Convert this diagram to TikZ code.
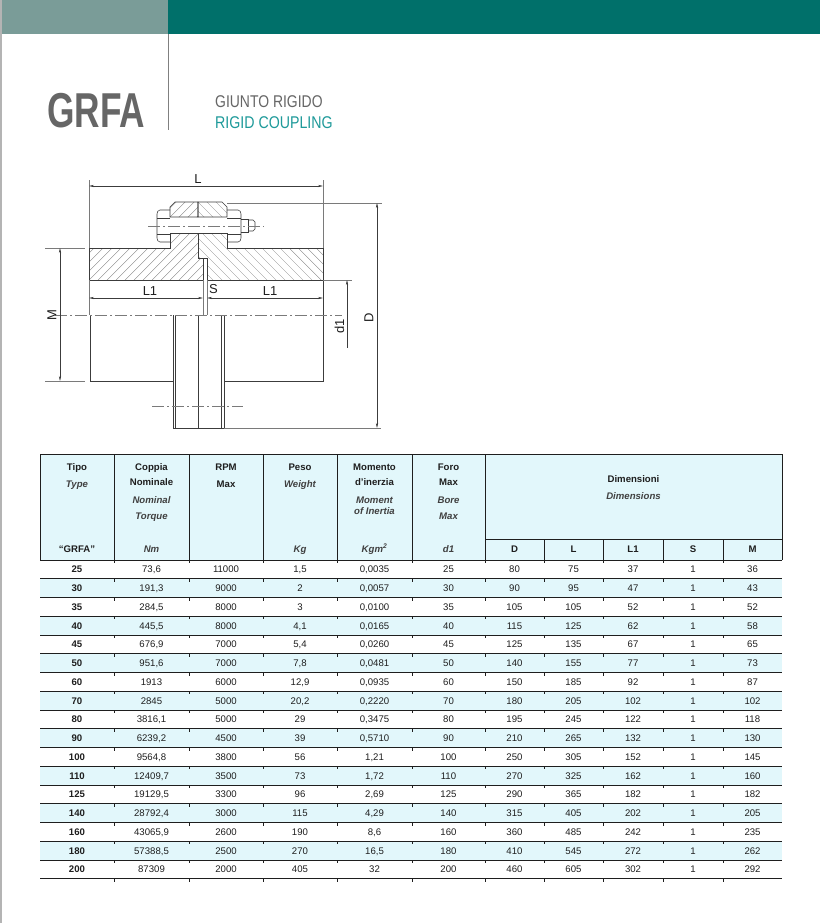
\documentclass[tikz,border=0pt]{standalone}
\usepackage{fontspec}
\setmainfont{Liberation Sans}
\usepackage{graphicx}
\usetikzlibrary{arrows.meta}
\definecolor{leftgray}{HTML}{B4B4B4}
\definecolor{bandlight}{HTML}{7A9C98}
\definecolor{banddark}{HTML}{00706A}
\definecolor{sepgray}{HTML}{808080}
\definecolor{titlegray}{HTML}{666666}
\definecolor{titleteal}{HTML}{1E9A9A}
\definecolor{tblue}{HTML}{E2F7FB}
\definecolor{tline}{HTML}{1E1E1E}
\definecolor{ink}{HTML}{1E1E1E}
\definecolor{dgray}{HTML}{3C3C3C}
\definecolor{lgray}{HTML}{7A7A7A}
\definecolor{hgray}{HTML}{808080}
\newcommand\trow[2]{%
  \pgfmathsetmacro\myry{560+(#1-0.5)*18.75}
  \foreach \v [count=\c] in {#2} {
    \pgfmathsetmacro\myrx{{77,151.5,226,300,374.5,448.5,514.5,573.5,633,693,752.5}[\c-1]}
    \node[cell] (r#1c\c) at (\myrx,\myry) {\ifnum\c=1\bfseries\fi\v};
  }}
\begin{document}
\begin{tikzpicture}[x=1pt,y=-1pt,
  cell/.style={inner sep=0pt, anchor=base, yshift=-3.4pt, text=ink, font=\fontsize{9.6}{10}\selectfont},
  hb/.style={inner sep=0pt, anchor=base, yshift=-3.4pt, text=ink, font=\fontsize{9.6}{10}\selectfont\bfseries},
  hi/.style={inner sep=0pt, anchor=base, yshift=-3.4pt, text=ink!85, font=\fontsize{9.6}{10}\selectfont\bfseries\itshape},
  part/.style={draw=dgray, line width=0.55pt},
  ext/.style={draw=lgray, line width=0.45pt},
  hatch/.style={draw=hgray, line width=0.35pt},
  axis/.style={draw=lgray, line width=0.45pt, dash pattern=on 12pt off 3pt on 2pt off 3pt},
  dim/.style={draw=dgray, line width=0.45pt, {Stealth[length=5pt,width=2.2pt]}-{Stealth[length=5pt,width=2.2pt]}},
  dimone/.style={draw=dgray, line width=0.45pt, {Stealth[length=5pt,width=2.2pt]}-},
  dimlab/.style={inner sep=0pt, text=ink, font=\fontsize{13}{13}\selectfont},
  tline/.style={draw=tline, line width=0.8pt}]
\useasboundingbox (0,0) rectangle (820,923);
\fill[white] (0,0) rectangle (820,923);
\fill[leftgray] (0,0) rectangle (2,923);
% header bands
\fill[bandlight] (2,0) rectangle (168,34);
\fill[banddark] (168,0) rectangle (820,34);
\draw[sepgray, line width=1.5pt] (168.5,34) -- (168.5,130);
\node[inner sep=0pt, anchor=base west, text=titlegray, font=\fontsize{49}{49}\selectfont\bfseries] (grfa) at (47,128) {\scalebox{0.72}[1]{GRFA}};
\node[inner sep=0pt, anchor=base west, text=titlegray, font=\fontsize{17}{17}\selectfont] (giunto) at (215,108) {\scalebox{0.82}[1]{GIUNTO RIGIDO}};
\node[inner sep=0pt, anchor=base west, text=titleteal, font=\fontsize{17}{17}\selectfont] (rigid) at (215,128.5) {\scalebox{0.835}[1]{RIGID COUPLING}};

% ================= drawing =================
% hatching left half
\begin{scope}
\clip (89,248) -- (170,248) -- (170,233) -- (198,233) -- (198,258) -- (203,258) -- (203,280) -- (89,280) -- cycle
      (170,217) -- (170,207) -- (175,202) -- (198,202) -- (198,217) -- cycle;
\foreach \i in {-20,-11,...,330} \draw[hatch] (\i,290) -- ++(100,-100);
\end{scope}
% hatching right half
\begin{scope}
\clip (198,202) -- (222,202) -- (227,207) -- (227,217) -- (198,217) -- cycle
      (198,233) -- (227,233) -- (227,248) -- (323,248) -- (323,280) -- (207,280) -- (207,258) -- (198,258) -- cycle;
\foreach \i in {60,69,...,360} \draw[hatch] (\i,190) -- ++(100,100);
\end{scope}
% outlines
\draw[part] (89,248) -- (170,248) -- (170,233) -- (198,233) -- (198,258) -- (203,258) -- (203,280) -- (89,280) -- cycle;
\draw[part] (170,217) -- (170,207) -- (175,202) -- (198,202) -- (198,217) -- cycle;
\draw[part] (198,202) -- (222,202) -- (227,207) -- (227,217) -- (198,217) -- cycle;
\draw[part] (198,233) -- (227,233) -- (227,248) -- (323,248) -- (323,280) -- (207,280) -- (207,258) -- (198,258) -- cycle;
% bolt head (left)
\draw[part] (170,210) -- (160,210) to[out=180,in=90] (157,214) -- (157,238) to[out=-90,in=180] (160,242) -- (170,242);
\draw[part] (157,218) -- (170,218) (157,234) -- (170,234);
% nut (right)
\draw[part] (227,210) -- (238,210) to[out=0,in=90] (241,214) -- (241,238) to[out=-90,in=0] (238,242) -- (227,242);
\draw[part] (227,218) -- (241,218) (227,234) -- (241,234);
\draw[part] (241,219) -- (248,219) -- (248,232) -- (241,232);
\draw[part] (248,220) -- (253,220) -- (255,222) -- (255,229) -- (253,231) -- (248,231);
% bolt axis
\draw[axis] (148,226) -- (264,226);
% lower view
\draw[part] (90,315) -- (90,381) -- (173,381);
\draw[part] (173,315) -- (173,428) (175.5,315) -- (175.5,428);
\draw[part] (198,315) -- (198,428);
\draw[part] (221.5,315) -- (221.5,428) (224,315) -- (224,428);
\draw[part] (224,381) -- (323,381) -- (323,280);
\draw[part] (173,428) -- (224,428);
\draw[axis] (55,315) -- (342,315);
\draw[axis] (152,406) -- (243,406);
% extension lines
\draw[ext] (89,180) -- (89,248) (89,280) -- (89,315);
\draw[ext] (323,180) -- (323,248);
\draw[ext] (203,280) -- (203,315) (207,280) -- (207,315);
\draw[ext] (227,203) -- (382,203);
\draw[ext] (224,428) -- (381,428);
\draw[ext] (323,280) -- (352,280);
\draw[ext] (45,248) -- (85,248) (45,381) -- (85,381);
% named points for dimensions
\coordinate (La) at (89,186); \coordinate (Lb) at (323,186);
\coordinate (Da) at (377,203); \coordinate (Db) at (377,428);
\coordinate (da) at (347,280); \coordinate (db) at (347,348);
\coordinate (Ma) at (60,248); \coordinate (Mb) at (60,381);
\coordinate (L1a) at (89,298); \coordinate (L1b) at (203,298);
\coordinate (L2a) at (207,298); \coordinate (L2b) at (323,298);
\draw[dim] (La) -- (Lb);
\draw[dim] (Da) -- (Db);
\draw[dimone] (da) -- (db);
\draw[dim] (Ma) -- (Mb);
\draw[dim] (L1a) -- (L1b);
\draw[dim] (L2a) -- (L2b);
\node[dimlab] (labL) at (198,179) {L};
\node[dimlab] (labL1) at (150,291.5) {L1};
\node[dimlab] (labL2) at (270,291.5) {L1};
\node[dimlab] (labS) at (213.5,289) {S};
\node[dimlab, rotate=90] (labD) at (369,318) {D};
\node[dimlab, rotate=90] (labd1) at (339.5,326) {d1};
\node[dimlab, rotate=90] (labM) at (52,315) {M};

% ================= table =================
\fill[tblue] (40,454) rectangle (782,560);
\foreach \k in {2,4,...,16} \fill[tblue] (40,{560+(\k-1)*18.75}) rectangle (782,{560+\k*18.75});
% header lines
\draw[tline] (40,454) -- (782,454);
\draw[tline] (485,539) -- (782,539);
\foreach \x in {40,114,189,263,337,412,485,782} \draw[tline] (\x,454) -- (\x,560);
\foreach \x in {544,603,663,723} \draw[tline] (\x,539) -- (\x,560);
% row lines
\foreach \k in {0,...,17} {
  \draw[tline] (40,{560+\k*18.75}) -- (782,{560+\k*18.75});
  \foreach \x in {114,189,263,337,412,485,544,603,663,723}
    \draw[tline] (\x,{560+\k*18.75}) -- (\x,{563+\k*18.75});
}
% header texts
\node[hb] (h1a) at (77,467) {Tipo};
\node[hi] (h1b) at (77,484) {Type};
\node[hb] (h1c) at (77,549) {“GRFA”};
\node[hb] (h2a) at (151.5,467) {Coppia};
\node[hb] (h2b) at (151.5,482) {Nominale};
\node[hi] (h2c) at (151.5,500) {Nominal};
\node[hi] (h2d) at (151.5,516) {Torque};
\node[hi] (h2e) at (151.5,549) {Nm};
\node[hb] (h3a) at (226,467) {RPM};
\node[hb] (h3b) at (226,484) {Max};
\node[hb] (h4a) at (300,467) {Peso};
\node[hi] (h4b) at (300,484) {Weight};
\node[hi] (h4c) at (300,549) {Kg};
\node[hb] (h5a) at (374.5,467) {Momento};
\node[hb] (h5b) at (374.5,482) {d'inerzia};
\node[hi] (h5c) at (374.5,500) {Moment};
\node[hi] (h5d) at (374.5,511) {of Inertia};
\node[hi] (h5e) at (374.5,549) {Kgm\textsuperscript{2}};
\node[hb] (h6a) at (448.5,467) {Foro};
\node[hb] (h6b) at (448.5,482) {Max};
\node[hi] (h6c) at (448.5,500) {Bore};
\node[hi] (h6d) at (448.5,516) {Max};
\node[hi] (h6e) at (448.5,549) {d1};
\node[hb] (h7a) at (633.5,479) {Dimensioni};
\node[hi] (h7b) at (633.5,496) {Dimensions};
\node[hb] (hD) at (514.5,549) {D};
\node[hb] (hL) at (573.5,549) {L};
\node[hb] (hL1) at (633,549) {L1};
\node[hb] (hS) at (693,549) {S};
\node[hb] (hM) at (752.5,549) {M};
% rows
\trow{1}{25,{73,6},11000,{1,5},{0,0035},25,80,75,37,1,36}
\trow{2}{30,{191,3},9000,2,{0,0057},30,90,95,47,1,43}
\trow{3}{35,{284,5},8000,3,{0,0100},35,105,105,52,1,52}
\trow{4}{40,{445,5},8000,{4,1},{0,0165},40,115,125,62,1,58}
\trow{5}{45,{676,9},7000,{5,4},{0,0260},45,125,135,67,1,65}
\trow{6}{50,{951,6},7000,{7,8},{0,0481},50,140,155,77,1,73}
\trow{7}{60,1913,6000,{12,9},{0,0935},60,150,185,92,1,87}
\trow{8}{70,2845,5000,{20,2},{0,2220},70,180,205,102,1,102}
\trow{9}{80,{3816,1},5000,29,{0,3475},80,195,245,122,1,118}
\trow{10}{90,{6239,2},4500,39,{0,5710},90,210,265,132,1,130}
\trow{11}{100,{9564,8},3800,56,{1,21},100,250,305,152,1,145}
\trow{12}{110,{12409,7},3500,73,{1,72},110,270,325,162,1,160}
\trow{13}{125,{19129,5},3300,96,{2,69},125,290,365,182,1,182}
\trow{14}{140,{28792,4},3000,115,{4,29},140,315,405,202,1,205}
\trow{15}{160,{43065,9},2600,190,{8,6},160,360,485,242,1,235}
\trow{16}{180,{57388,5},2500,270,{16,5},180,410,545,272,1,262}
\trow{17}{200,87309,2000,405,32,200,460,605,302,1,292}
\end{tikzpicture}
\end{document}
